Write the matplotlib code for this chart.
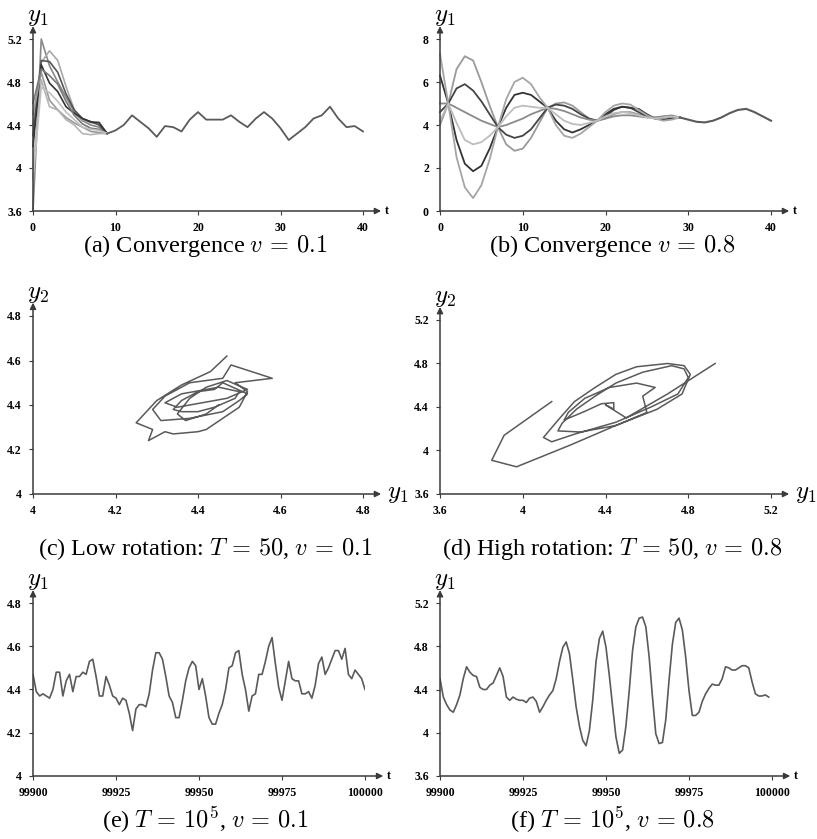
import matplotlib.pyplot as plt

plt.rcParams['mathtext.fontset'] = 'cm'
plt.rcParams['font.family'] = ['Liberation Serif', 'DejaVu Serif']

W, H = 817, 839

# ---- (a) convergence v = 0.1 ----
A_T_EARLY = [0, 1, 2, 3, 4, 5, 6, 7, 8, 9]
A_EARLY = [
    [3.6, 5.2, 4.95, 4.80, 4.66, 4.52, 4.44, 4.40, 4.38, 4.32],
    [4.4, 4.98, 5.09, 5.00, 4.76, 4.54, 4.45, 4.42, 4.43, 4.32],
    [4.3, 5.00, 4.99, 4.89, 4.69, 4.54, 4.46, 4.43, 4.40, 4.32],
    [4.2, 4.96, 4.79, 4.71, 4.57, 4.51, 4.46, 4.43, 4.42, 4.32],
    [4.5, 4.89, 4.63, 4.54, 4.47, 4.42, 4.38, 4.34, 4.33, 4.32],
    [4.0, 4.82, 4.57, 4.54, 4.45, 4.40, 4.32, 4.31, 4.32, 4.32],
    [4.6, 4.92, 4.86, 4.78, 4.62, 4.49, 4.41, 4.37, 4.36, 4.32],
    [3.9, 4.75, 4.70, 4.62, 4.52, 4.45, 4.38, 4.36, 4.35, 4.32],
]
A_EARLY_COLORS = ['#888888', '#a8a8a8', '#555555', '#333333', '#999999', '#b5b5b5', '#777777', '#c0c0c0']
A_T_TAIL = list(range(9, 41))
A_TAIL = [4.32, 4.35, 4.40, 4.49, 4.43, 4.37, 4.29, 4.39, 4.38, 4.34, 4.45, 4.52,
          4.45, 4.45, 4.45, 4.49, 4.43, 4.38, 4.46, 4.52, 4.46, 4.37, 4.26, 4.32,
          4.38, 4.46, 4.49, 4.57, 4.46, 4.38, 4.39, 4.34]

# ---- (b) convergence v = 0.8 ----
B_T_EARLY = list(range(0, 30))
B_EARLY = [
    [4.0, 5.0, 6.6, 7.2, 7.0, 6.0, 4.9, 3.9, 3.1, 2.8, 2.9, 3.4, 4.1, 4.8, 5.0,
     5.05, 4.9, 4.6, 4.3, 4.2, 4.3, 4.5, 4.6, 4.6, 4.5, 4.4, 4.35, 4.4, 4.45, 4.35],
    [4.6, 5.0, 5.7, 5.9, 5.6, 5.1, 4.5, 3.9, 3.55, 3.4, 3.5, 3.8, 4.3, 4.8, 4.95,
     4.9, 4.75, 4.5, 4.3, 4.2, 4.4, 4.7, 4.85, 4.8, 4.6, 4.4, 4.3, 4.35, 4.4, 4.35],
    [6.3, 5.0, 3.3, 2.2, 1.85, 2.1, 2.9, 3.9, 4.8, 5.4, 5.5, 5.4, 5.1, 4.8, 4.2,
     3.8, 3.65, 3.8, 4.0, 4.2, 4.5, 4.75, 4.85, 4.8, 4.75, 4.5, 4.3, 4.25, 4.3, 4.35],
    [7.3, 5.0, 2.5, 1.1, 0.6, 1.2, 2.4, 3.9, 5.2, 6.0, 6.2, 5.9, 5.3, 4.8, 4.0,
     3.5, 3.4, 3.6, 3.9, 4.2, 4.6, 4.9, 5.0, 4.95, 4.7, 4.45, 4.3, 4.2, 4.25, 4.35],
    [5.0, 5.0, 4.8, 4.6, 4.4, 4.2, 4.05, 3.9, 4.0, 4.15, 4.3, 4.5, 4.65, 4.8, 4.75,
     4.65, 4.5, 4.35, 4.25, 4.2, 4.3, 4.4, 4.45, 4.45, 4.4, 4.35, 4.35, 4.4, 4.4, 4.35],
    [4.2, 5.0, 4.1, 3.3, 3.1, 3.2, 3.5, 3.9, 4.4, 4.8, 4.9, 4.85, 4.8, 4.8, 4.5,
     4.2, 4.05, 4.0, 4.1, 4.2, 4.4, 4.55, 4.6, 4.55, 4.45, 4.35, 4.3, 4.35, 4.4, 4.35],
]
B_EARLY_COLORS = ['#9a9a9a', '#444444', '#333333', '#a5a5a5', '#8a8a8a', '#bdbdbd']
B_T_TAIL = list(range(29, 41))
B_TAIL = [4.35, 4.25, 4.15, 4.12, 4.2, 4.35, 4.55, 4.7, 4.75, 4.6, 4.4, 4.2]

# ---- (c) low rotation, phase plot ----
C_Y1 = [4.47, 4.43, 4.36, 4.30, 4.27, 4.25, 4.29, 4.28, 4.32, 4.34, 4.40, 4.42, 4.50,
        4.52, 4.49, 4.58, 4.48, 4.46, 4.38, 4.32, 4.29, 4.31, 4.38, 4.46, 4.50, 4.52,
        4.46, 4.44, 4.40, 4.36, 4.34, 4.36, 4.40, 4.44, 4.49, 4.50, 4.45, 4.36, 4.32,
        4.35, 4.41, 4.47, 4.52, 4.47, 4.42, 4.38, 4.35, 4.37, 4.42, 4.45]
C_Y2 = [4.62, 4.55, 4.49, 4.42, 4.36, 4.32, 4.29, 4.24, 4.28, 4.27, 4.28, 4.29, 4.39,
        4.46, 4.50, 4.52, 4.58, 4.52, 4.50, 4.44, 4.38, 4.33, 4.34, 4.37, 4.42, 4.45,
        4.50, 4.47, 4.46, 4.42, 4.38, 4.37, 4.37, 4.39, 4.43, 4.46, 4.48, 4.45, 4.41,
        4.39, 4.41, 4.43, 4.47, 4.51, 4.48, 4.43, 4.36, 4.33, 4.36, 4.40]

# ---- (d) high rotation, phase plot ----
D_Y1 = [4.14, 3.91, 3.85, 3.97, 4.23, 4.45, 4.65, 4.77, 4.81, 4.78, 4.70, 4.55, 4.45,
        4.35, 4.25, 4.18, 4.10, 4.14, 4.25, 4.45, 4.62, 4.75, 4.80, 4.78, 4.72, 4.58,
        4.45, 4.35, 4.26, 4.19, 4.17, 4.28, 4.45, 4.60, 4.58, 4.64, 4.55, 4.42, 4.30,
        4.22, 4.20, 4.30, 4.38, 4.44, 4.44, 4.40, 4.50, 4.70, 4.93]
D_Y2 = [4.45, 4.14, 3.91, 3.85, 4.05, 4.23, 4.38, 4.52, 4.70, 4.78, 4.80, 4.77, 4.70,
        4.58, 4.45, 4.30, 4.12, 4.08, 4.15, 4.26, 4.40, 4.52, 4.67, 4.75, 4.78, 4.72,
        4.62, 4.50, 4.38, 4.25, 4.18, 4.17, 4.23, 4.35, 4.50, 4.58, 4.62, 4.58, 4.48,
        4.35, 4.28, 4.36, 4.43, 4.44, 4.38, 4.42, 4.30, 4.52, 4.80]

# ---- (e) T = 1e5, v = 0.1 ----
E_T0 = 99900
E_Y = [4.47, 4.39, 4.37, 4.38, 4.37, 4.36, 4.40, 4.48, 4.48, 4.37, 4.44, 4.47, 4.39,
       4.46, 4.46, 4.48, 4.47, 4.53, 4.54, 4.46, 4.37, 4.37, 4.46, 4.42, 4.37, 4.36,
       4.33, 4.36, 4.35, 4.29, 4.21, 4.31, 4.33, 4.33, 4.32, 4.38, 4.49, 4.57, 4.57,
       4.54, 4.46, 4.37, 4.34, 4.27, 4.27, 4.35, 4.44, 4.50, 4.53, 4.51, 4.40, 4.45,
       4.37, 4.27, 4.24, 4.24, 4.29, 4.33, 4.40, 4.50, 4.51, 4.57, 4.58, 4.47, 4.40,
       4.30, 4.37, 4.38, 4.47, 4.47, 4.53, 4.60, 4.64, 4.52, 4.41, 4.35, 4.44, 4.53,
       4.45, 4.44, 4.44, 4.38, 4.38, 4.39, 4.36, 4.42, 4.52, 4.55, 4.47, 4.50, 4.54,
       4.58, 4.58, 4.54, 4.59, 4.47, 4.45, 4.49, 4.47, 4.45, 4.40]

# ---- (f) T = 1e5, v = 0.8 ----
F_T0 = 99900
F_Y = [4.50, 4.33, 4.26, 4.21, 4.19, 4.26, 4.35, 4.50, 4.61, 4.56, 4.53, 4.52, 4.42,
       4.40, 4.40, 4.44, 4.46, 4.53, 4.60, 4.52, 4.33, 4.30, 4.33, 4.31, 4.30, 4.30,
       4.28, 4.32, 4.33, 4.29, 4.19, 4.24, 4.30, 4.35, 4.39, 4.50, 4.66, 4.79, 4.84,
       4.73, 4.49, 4.24, 4.06, 3.93, 3.88, 4.02, 4.30, 4.66, 4.87, 4.94, 4.79, 4.53,
       4.24, 3.96, 3.81, 3.84, 4.06, 4.39, 4.76, 4.98, 5.06, 5.07, 4.98, 4.70, 4.33,
       3.99, 3.90, 3.91, 4.12, 4.49, 4.82, 5.02, 5.06, 4.95, 4.70, 4.39, 4.16, 4.16,
       4.19, 4.29, 4.36, 4.41, 4.45, 4.44, 4.44, 4.50, 4.61, 4.60, 4.58, 4.58, 4.60,
       4.62, 4.62, 4.60, 4.47, 4.36, 4.34, 4.34, 4.35, 4.33]

CAPTIONS = [
    r'(a) Convergence $v\,=\,0.1$',
    r'(b) Convergence $v\,=\,0.8$',
    r'(c) Low rotation: $T\,=\,50$, $v\,=\,0.1$',
    r'(d) High rotation: $T\,=\,50$, $v\,=\,0.8$',
    r'(e) $T\,=\,10^5$, $v\,=\,0.1$',
    r'(f) $T\,=\,10^5$, $v\,=\,0.8$',
]

AXIS_COL = '#3a3a3a'
LINE_COL = '#5a5a5a'

fig = plt.figure(figsize=(W / 100, H / 100), dpi=100)


def px_axes(x0, y0, x1, y1):
    # x0/x1 left/right pixel, y0 bottom pixel, y1 top pixel (image coords)
    return fig.add_axes([x0 / W, 1 - y0 / H, (x1 - x0) / W, (y0 - y1) / H])


def fmt(v):
    return '%g' % v


def style(ax, xticks, yticks, xname, yname, xname_big=False):
    for s in ax.spines.values():
        s.set_visible(False)
    ax.set_xlim(xticks[0], xticks[-1])
    ax.set_ylim(yticks[0], yticks[-1])
    ax.set_xticks(xticks, [fmt(v) for v in xticks])
    ax.set_yticks(yticks, [fmt(v) for v in yticks])
    ax.tick_params(axis='both', length=3, width=0.8, color=AXIS_COL,
                   labelsize=8.5, pad=5)
    for lab in ax.get_xticklabels() + ax.get_yticklabels():
        lab.set_fontweight('bold')
    arrow = dict(arrowstyle='-|>', lw=1.1, color=AXIS_COL, mutation_scale=9,
                 shrinkA=0, shrinkB=0)
    ax.annotate('', xy=(1.055, 0), xytext=(0, 0), xycoords='axes fraction', arrowprops=arrow)
    ax.annotate('', xy=(0, 1.075), xytext=(0, 0), xycoords='axes fraction', arrowprops=arrow)
    ax.annotate(yname, xy=(0, 1), xycoords='axes fraction', xytext=(-6, 18),
                textcoords='offset pixels', fontsize=18, ha='left', va='baseline')
    if xname_big:
        ax.annotate(xname, xy=(1, 0), xycoords='axes fraction', xytext=(24, 0),
                    textcoords='offset pixels', fontsize=18, ha='left', va='center')
    else:
        ax.annotate(xname, xy=(1, 0), xycoords='axes fraction', xytext=(22, 0),
                    textcoords='offset pixels', fontsize=8.5, fontweight='bold',
                    ha='left', va='center')


# (a)
ax = px_axes(33, 211, 363, 39)
for ys, c in zip(A_EARLY, A_EARLY_COLORS):
    ax.plot(A_T_EARLY, ys, color=c, lw=1.2, clip_on=False)
ax.plot(A_T_TAIL, A_TAIL, color=LINE_COL, lw=1.3, clip_on=False)
style(ax, [0, 10, 20, 30, 40], [3.6, 4, 4.4, 4.8, 5.2], 't', r'$y_1$')

# (b)
ax = px_axes(440, 211, 771, 39)
for ys, c in zip(B_EARLY, B_EARLY_COLORS):
    ax.plot(B_T_EARLY, ys, color=c, lw=1.3, clip_on=False)
ax.plot(B_T_TAIL, B_TAIL, color=LINE_COL, lw=1.5, clip_on=False)
style(ax, [0, 10, 20, 30, 40], [0, 2, 4, 6, 8], 't', r'$y_1$')

# (c)
ax = px_axes(33, 494, 363, 316)
ax.plot(C_Y1, C_Y2, color=LINE_COL, lw=1.1)
style(ax, [4, 4.2, 4.4, 4.6, 4.8], [4, 4.2, 4.4, 4.6, 4.8], r'$y_1$', r'$y_2$', True)

# (d)
ax = px_axes(440, 494, 771, 320)
ax.plot(D_Y1, D_Y2, color=LINE_COL, lw=1.1)
style(ax, [3.6, 4, 4.4, 4.8, 5.2], [3.6, 4, 4.4, 4.8, 5.2], r'$y_1$', r'$y_2$', True)

# (e)
ax = px_axes(33, 776, 365, 603)
ax.plot(range(E_T0, E_T0 + len(E_Y)), E_Y, color=LINE_COL, lw=1.2)
style(ax, [99900, 99925, 99950, 99975, 100000], [4, 4.2, 4.4, 4.6, 4.8], 't', r'$y_1$')

# (f)
ax = px_axes(440, 776, 772, 603)
ax.plot(range(F_T0, F_T0 + len(F_Y)), F_Y, color=LINE_COL, lw=1.2)
style(ax, [99900, 99925, 99950, 99975, 100000], [3.6, 4, 4.4, 4.8, 5.2], 't', r'$y_1$')

cap_pos = [(205, 246), (612, 246), (205, 549), (612, 549), (205, 820), (612, 820)]
for (cx, cy), txt in zip(cap_pos, CAPTIONS):
    fig.text(cx / W, 1 - cy / H, txt, fontsize=17.5, ha='center', va='center')

fig.savefig('out.png', dpi=100)
